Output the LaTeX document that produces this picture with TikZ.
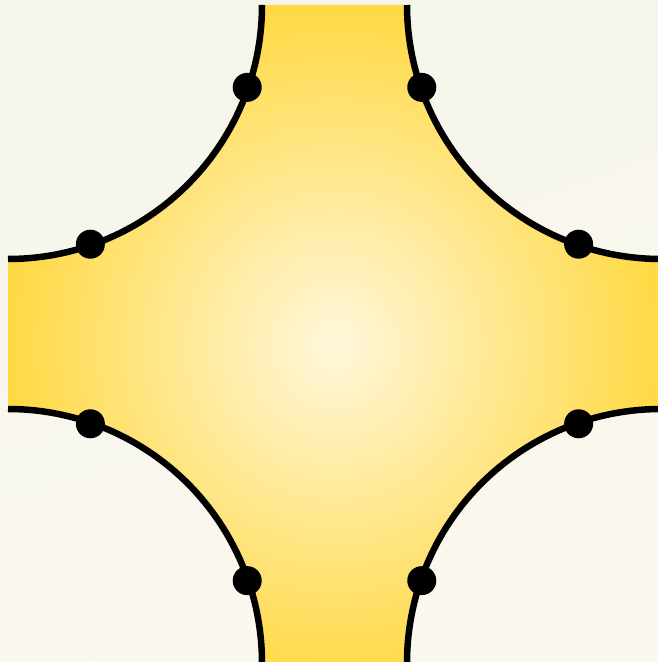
\documentclass[tikz,border=0pt]{standalone}
\usetikzlibrary{calc}
\definecolor{bgA}{HTML}{F5F5EC}
\definecolor{bgB}{HTML}{FBF8EF}
\definecolor{yIn}{HTML}{FFF7DC}
\definecolor{yOut}{HTML}{FFD944}
\tikzset{
  edgeline/.style={line width=6.5pt, black},
  dotmark/.style={circle, fill=black, inner sep=0pt, minimum size=29pt},
}
\begin{document}
\begin{tikzpicture}[x=1pt,y=1pt]
  \useasboundingbox (0,0) rectangle (658,662);
  \clip (0,0) rectangle (658,662);
  % background
  \shade[shading=axis, top color=bgA, bottom color=bgB, shading angle=20] (-10,-10) rectangle (668,672);
  % arc centres
  \coordinate (TL) at (8,657);
  \coordinate (TR) at (661,657);
  \coordinate (BL) at (8,-1);
  \coordinate (BR) at (661,-1);
  % yellow tile
  \shade[inner color=yIn, outer color=yOut]
    ($(TL)+(-90:254)$) -- ($(BL)+(90:254)$) arc[start angle=90, end angle=-5, radius=254]
    -- ($(BR)+(185:254)$) arc[start angle=185, end angle=90, radius=254]
    -- ($(TR)+(-90:254)$) arc[start angle=270, end angle=180, radius=254]
    -- ($(TL)+(0:254)$) arc[start angle=0, end angle=-90, radius=254] -- cycle;
  % arcs
  \draw[edgeline] ($(BL)+(90:254)$) arc[start angle=90, end angle=-5, radius=254];
  \draw[edgeline] ($(BR)+(185:254)$) arc[start angle=185, end angle=80, radius=254];
  \draw[edgeline] ($(TR)+(280:254)$) arc[start angle=280, end angle=180, radius=254];
  \draw[edgeline] ($(TL)+(0:254)$) arc[start angle=0, end angle=-90, radius=254];
  % dots
  \node[dotmark] (d1) at ($(TL)+(-19:253)$) {};
  \node[dotmark] (d2) at ($(TL)+(-71:253)$) {};
  \node[dotmark] (d3) at ($(TR)+(199:253)$) {};
  \node[dotmark] (d4) at ($(TR)+(251:253)$) {};
  \node[dotmark] (d5) at ($(BL)+(19:253)$) {};
  \node[dotmark] (d6) at ($(BL)+(71:253)$) {};
  \node[dotmark] (d7) at ($(BR)+(161:253)$) {};
  \node[dotmark] (d8) at ($(BR)+(109:253)$) {};
\end{tikzpicture}
\end{document}
